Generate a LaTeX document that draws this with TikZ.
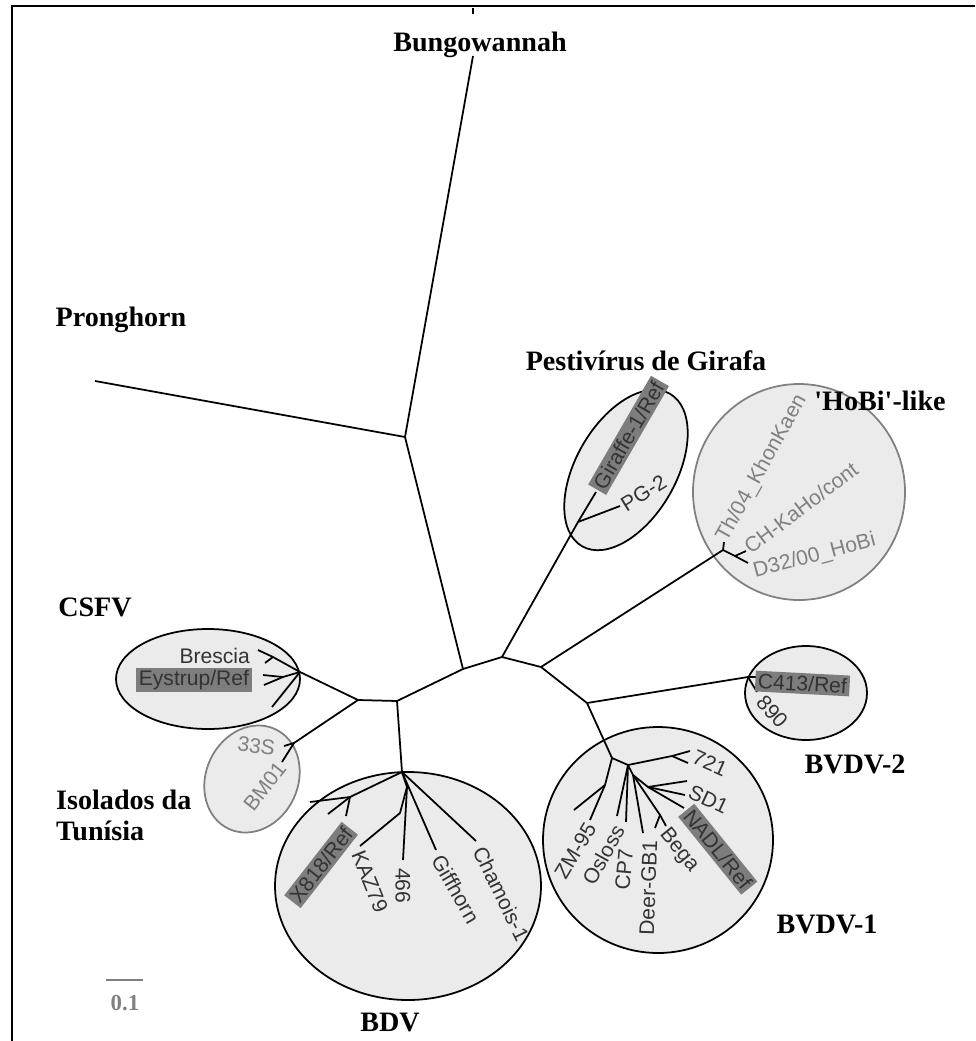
\documentclass[tikz,border=0pt]{standalone}
\usepackage{fontspec}
\setmainfont{Liberation Serif}
\setsansfont{Liberation Sans}
\usetikzlibrary{positioning}

\definecolor{cladefill}{HTML}{EBEBEB}
\definecolor{refgray}{HTML}{7D7D7D}
\definecolor{leafink}{HTML}{333333}
\definecolor{paleink}{HTML}{808080}

\tikzset{
  branch/.style={line width=1pt, line join=round},
  clade/.style={draw, line width=1pt, fill=cladefill},
  paleclade/.style={draw=paleink, line width=1pt, fill=cladefill},
  leaf/.style={font=\sffamily\fontsize{12}{12}\selectfont, text=leafink, inner sep=1pt},
  refleaf/.style={leaf, fill=refgray, inner sep=1.5pt},
  paleleaf/.style={leaf, text=paleink},
  grouplabel/.style={font=\bfseries\fontsize{16}{17.6}\selectfont},
}

\begin{document}
\begin{tikzpicture}[x=0.02cm, y=0.02cm]
\useasboundingbox (0,0) rectangle (975,-1041);
% frame
\draw[line width=1pt] (12,-1041) -- (12,-6) -- (975,-6);
\draw[line width=1pt] (473,-8) -- (473,-14);

% clades
\draw[clade] (208,-679) ellipse [x radius=92, y radius=50];
\draw[paleclade, rotate around={65:(252,-779)}] (252,-779) ellipse [x radius=55, y radius=46];
\draw[clade] (408,-886) ellipse [x radius=133, y radius=114];
\draw[clade] (658,-840) ellipse [x radius=115, y radius=113];
\draw[clade] (806,-693) ellipse [x radius=61, y radius=47];
\draw[paleclade] (799,-492) ellipse [x radius=106, y radius=108];
\draw[clade, rotate around={60:(626,-470)}] (626,-470) ellipse [x radius=88, y radius=50];

% inner nodes
\coordinate (bungo) at (473,-56);
\coordinate (prong) at (95,-381);
\coordinate (n1) at (405,-437);
\coordinate (nA) at (463,-669);
\coordinate (nB) at (397,-701);
\coordinate (nF) at (358,-700);
\coordinate (csfv) at (300,-672);
\coordinate (tun) at (294,-743);
\coordinate (bdv) at (402,-772);
\coordinate (nC) at (502,-657);
\coordinate (gir) at (578,-522);
\coordinate (nD) at (541,-667);
\coordinate (hobi) at (723,-550);
\coordinate (nE) at (587,-703);
\coordinate (bvdvii) at (748,-677);
\coordinate (bvdvi) at (612,-758);

% backbone
\draw[branch] (bungo) -- (n1) -- (prong);
\draw[branch] (n1) -- (nA) -- (nB) -- (nF) -- (csfv);
\draw[branch] (nF) -- (tun);
\draw[branch] (nB) -- (bdv);
\draw[branch] (nA) -- (nC) -- (gir);
\draw[branch] (nC) -- (nD) -- (hobi);
\draw[branch] (nD) -- (nE) -- (bvdvii);
\draw[branch] (nE) -- (bvdvi);

% CSFV
\coordinate (c1) at (273,-657);
\coordinate (c2) at (283,-677);
\coordinate (c1a) at (258,-650);
\coordinate (c1b) at (265,-663);
\coordinate (c2a) at (263,-675);
\coordinate (c2b) at (264,-685);
\coordinate (c3) at (272,-707);
\draw[branch] (csfv) -- (c1) -- (c1a);
\draw[branch] (c1) -- (c1b);
\draw[branch] (csfv) -- (c2) -- (c2a);
\draw[branch] (c2) -- (c2b);
\draw[branch] (csfv) -- (c3);
\node[leaf, anchor=east] (brescia) at (252,-656) {Brescia};
\node[refleaf, anchor=east] (eystrup) at (252,-680) {Eystrup/Ref};

% Tunisia
\coordinate (t33s) at (284,-746);
\coordinate (tbm) at (282,-762);
\draw[branch] (tun) -- (t33s);
\draw[branch] (tun) -- (tbm);
\node[paleleaf, anchor=east, rotate=-8] (s33) at (277,-749) {33S};
\node[paleleaf, anchor=east, rotate=52] (bm01) at (283,-763) {BM01};

% BDV
\coordinate (b1) at (350,-797);
\coordinate (b1a) at (310,-802);
\coordinate (b1b) at (328,-814);
\coordinate (b1c) at (346,-816);
\coordinate (b2) at (407,-787);
\coordinate (b3) at (400,-813);
\coordinate (bkaz) at (360,-846);
\coordinate (b466) at (403,-860);
\coordinate (bgif) at (436,-850);
\coordinate (bcham) at (476,-841);
\draw[branch] (bdv) -- (b1) -- (b1a);
\draw[branch] (b1) -- (b1b);
\draw[branch] (b1) -- (b1c);
\draw[branch] (bdv) -- (b2) -- (b3) -- (bkaz);
\draw[branch] (b2) -- (b466);
\draw[branch] (bdv) -- (bgif);
\draw[branch] (bdv) -- (bcham);
\node[refleaf, anchor=east, rotate=52] (x818) at (350,-828) {X818/Ref};
\node[leaf, anchor=west, rotate=-68] (kaz) at (357,-850) {KAZ79};
\node[leaf, anchor=west, rotate=-90] (l466) at (403,-866) {466};
\node[leaf, anchor=west, rotate=-60] (gif) at (436,-855) {Giffhorn};
\node[leaf, anchor=west, rotate=-64] (cham) at (478,-846) {Chamois-1};

% BVDV-1
\coordinate (h1) at (628,-765);
\coordinate (h2) at (633,-775);
\coordinate (h3) at (648,-787);
\coordinate (h5) at (605,-785);
\coordinate (v721) at (672,-756);
\coordinate (v721a) at (690,-751);
\coordinate (v721b) at (688,-763);
\coordinate (vsda) at (687,-781);
\coordinate (vsdb) at (685,-795);
\coordinate (vnadl) at (684,-808);
\coordinate (vbega) at (660,-815);
\coordinate (vbegaa) at (655,-828);
\coordinate (vbegab) at (666,-826);
\coordinate (vdeer) at (643,-833);
\coordinate (vcp) at (626,-822);
\coordinate (vosl) at (617,-816);
\coordinate (vzma) at (574,-810);
\coordinate (vzmb) at (590,-820);
\draw[branch] (bvdvi) -- (h1) -- (v721) -- (v721a);
\draw[branch] (v721) -- (v721b);
\draw[branch] (h1) -- (h2) -- (h3) -- (vsda);
\draw[branch] (h3) -- (vsdb);
\draw[branch] (h3) -- (vnadl);
\draw[branch] (h2) -- (vbega) -- (vbegaa);
\draw[branch] (vbega) -- (vbegab);
\draw[branch] (h2) -- (vdeer);
\draw[branch] (h1) -- (vcp);
\draw[branch] (h1) -- (vosl);
\draw[branch] (bvdvi) -- (h5) -- (vzma);
\draw[branch] (h5) -- (vzmb);
\node[leaf, anchor=west, rotate=-24] (l721) at (692,-755) {721};
\node[leaf, anchor=west, rotate=-25] (sd1) at (688,-790) {SD1};
\node[refleaf, anchor=west, rotate=-51] (nadl) at (686,-810) {NADL/Ref};
\node[leaf, anchor=west, rotate=-51] (bega) at (662,-830) {Bega};
\node[leaf, anchor=east, rotate=88] (deer) at (650,-838) {Deer-GB1};
\node[leaf, anchor=east, rotate=85] (cp7) at (626,-847) {CP7};
\node[leaf, anchor=east, rotate=61] (osl) at (620,-825) {Osloss};
\node[leaf, anchor=east, rotate=59] (zm95) at (592,-823) {ZM-95};

% BVDV-2
\coordinate (w413) at (756,-677);
\coordinate (w890) at (757,-692);
\draw[branch] (bvdvii) -- (w413);
\draw[branch] (bvdvii) -- (w890);
\node[refleaf, anchor=west, rotate=-3] (c413) at (755,-681) {C413/Ref};
\node[leaf, anchor=west, rotate=-48] (l890) at (759,-697) {890};

% HoBi-like
\coordinate (k1) at (724,-542);
\coordinate (k2) at (735,-556);
\coordinate (k2a) at (746,-551);
\coordinate (k2b) at (748,-563);
\draw[branch] (hobi) -- (k1);
\draw[branch] (hobi) -- (k2) -- (k2a);
\draw[branch] (k2) -- (k2b);
\node[paleleaf, anchor=west, rotate=61] (khon) at (721,-542) {Th/04\_KhonKaen};
\node[paleleaf, anchor=west, rotate=37] (kaho) at (745,-550) {CH-KaHo/cont};
\node[paleleaf, anchor=west, rotate=15] (d32) at (752,-573) {D32/00\_HoBi};

% Giraffe
\coordinate (g1) at (596,-492);
\coordinate (g2) at (620,-506);
\draw[branch] (gir) -- (g1);
\draw[branch] (gir) -- (g2);
\node[refleaf, anchor=west, rotate=60] (giraffe) at (597,-490) {Giraffe-1/Ref};
\node[leaf, anchor=west, rotate=32] (pg2) at (621,-507) {PG-2};

% group names
\node[grouplabel] (gbungo) at (480,-45) {Bungowannah};
\node[grouplabel] (gprong) at (121,-320) {Pronghorn};
\node[grouplabel] (ggir) at (646,-361) {Pestivírus de Girafa};
\node[grouplabel] (ghobi) at (880,-401) {\textquotesingle HoBi\textquotesingle-like};
\node[grouplabel] (gcsfv) at (95,-607) {CSFV};
\node[grouplabel] (gbvdvii) at (855,-764) {BVDV-2};
\node[grouplabel, align=left, anchor=west] (gtun) at (50,-815) {Isolados da\\Tunísia};
\node[grouplabel] (gbvdvi) at (827,-924) {BVDV-1};
\node[grouplabel] (gbdv) at (390,-1022) {BDV};

% scale
\coordinate (sbl) at (106,-980);
\coordinate (sbr) at (143,-980);
\draw[paleink, line width=1.2pt] (sbl) -- (sbr);
\node[font=\bfseries\fontsize{13}{13}\selectfont, text=paleink] (sblab) at (125,-1003) {0.1};
\end{tikzpicture}
\end{document}
